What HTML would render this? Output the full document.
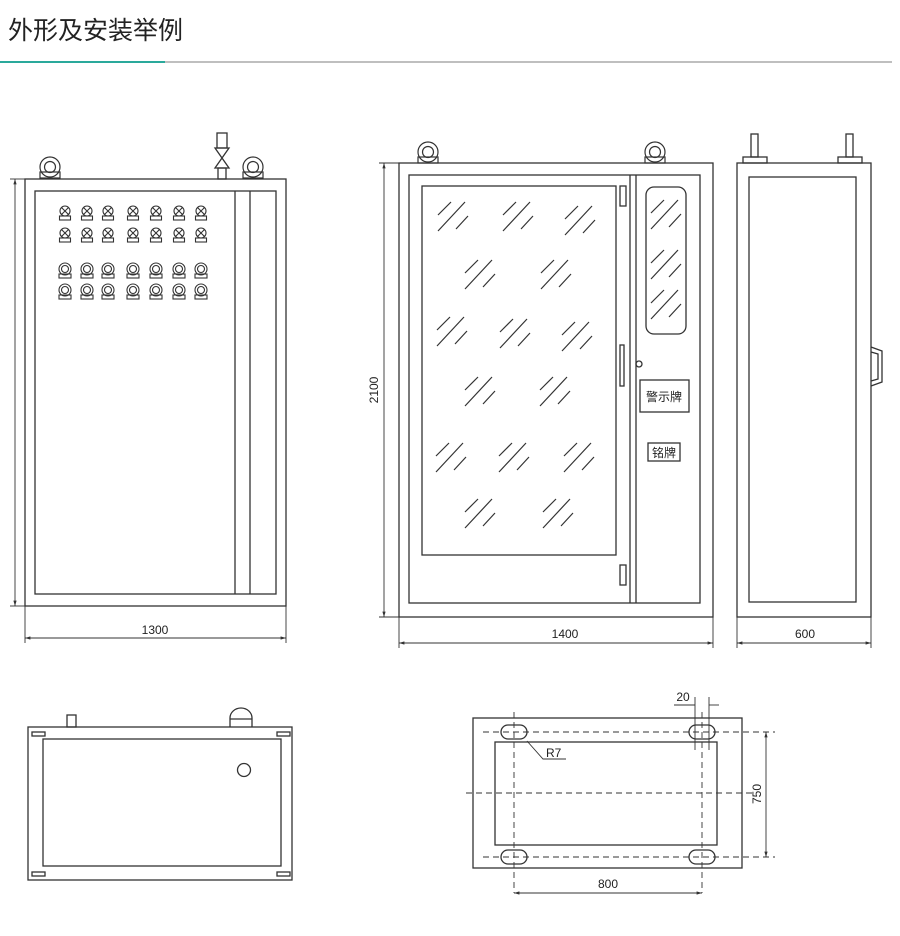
<!DOCTYPE html>
<html><head><meta charset="utf-8"><style>
body{margin:0;background:#fff;}
svg{display:block;}
text{font-family:"Liberation Sans","Noto Sans CJK SC",sans-serif;fill:#222;}
</style></head><body>
<svg width="900" height="936" viewBox="0 0 900 936" xmlns="http://www.w3.org/2000/svg">
<defs>
<g id="h" stroke="#333" stroke-width="1.2" fill="none">
<line x1="0" y1="13" x2="13" y2="0"/><line x1="0" y1="29" x2="27" y2="0"/><line x1="18" y1="27" x2="30" y2="14"/>
</g>
<g id="lx" stroke="#333" stroke-width="1.1" fill="none">
<circle cx="0" cy="0" r="5"/><line x1="-3.5" y1="-3.5" x2="3.5" y2="3.5"/><line x1="-3.5" y1="3.5" x2="3.5" y2="-3.5"/><rect x="-5.5" y="5" width="11" height="4"/>
</g>
<g id="bt" stroke="#333" stroke-width="1.1" fill="none">
<circle cx="0" cy="0" r="6"/><circle cx="0" cy="0" r="3.5"/><rect x="-6" y="5" width="12" height="4"/>
</g>
<g id="eye" stroke="#333" stroke-width="1.2" fill="none">
<circle cx="0" cy="-11" r="10"/><circle cx="0" cy="-11" r="5.5"/><rect x="-10" y="-6" width="20" height="6"/>
</g>
<marker id="a" viewBox="0 0 10 10" refX="10" refY="5" markerWidth="6" markerHeight="6" orient="auto-start-reverse"><path d="M0,2 L10,5 L0,8z" fill="#333"/></marker>
</defs>

<text x="8" y="39" font-size="25" style="fill:#222">外形及安装举例</text>
<line x1="0" y1="62" x2="165" y2="62" stroke="#2aa99b" stroke-width="2"/>
<line x1="165" y1="62" x2="892" y2="62" stroke="#aaa" stroke-width="1.5"/>

<g stroke="#333" stroke-width="1.3" fill="none">
<rect x="25" y="179" width="261" height="427"/>
<rect x="35" y="191" width="241" height="403"/>
<line x1="235" y1="191" x2="235" y2="594"/>
<line x1="250" y1="191" x2="250" y2="594"/>
<rect x="217" y="133" width="10" height="15"/>
<path d="M215,148 L229,148 L215,168 L229,168 Z"/>
<rect x="218" y="168" width="8" height="11"/>
</g>
<use href="#eye" x="50" y="178"/>
<use href="#eye" x="253" y="178"/>
<g>
<use href="#lx" x="65" y="211"/><use href="#lx" x="87" y="211"/><use href="#lx" x="108" y="211"/><use href="#lx" x="133" y="211"/><use href="#lx" x="156" y="211"/><use href="#lx" x="179" y="211"/><use href="#lx" x="201" y="211"/>
<use href="#lx" x="65" y="233"/><use href="#lx" x="87" y="233"/><use href="#lx" x="108" y="233"/><use href="#lx" x="133" y="233"/><use href="#lx" x="156" y="233"/><use href="#lx" x="179" y="233"/><use href="#lx" x="201" y="233"/>
<use href="#bt" x="65" y="269"/><use href="#bt" x="87" y="269"/><use href="#bt" x="108" y="269"/><use href="#bt" x="133" y="269"/><use href="#bt" x="156" y="269"/><use href="#bt" x="179" y="269"/><use href="#bt" x="201" y="269"/>
<use href="#bt" x="65" y="290"/><use href="#bt" x="87" y="290"/><use href="#bt" x="108" y="290"/><use href="#bt" x="133" y="290"/><use href="#bt" x="156" y="290"/><use href="#bt" x="179" y="290"/><use href="#bt" x="201" y="290"/>
</g>
<g stroke="#333" stroke-width="0.9" fill="none">
<line x1="15" y1="179" x2="15" y2="606" marker-start="url(#a)" marker-end="url(#a)"/>
<line x1="10" y1="179" x2="25" y2="179"/><line x1="10" y1="606" x2="25" y2="606"/>
<line x1="25" y1="606" x2="25" y2="643"/><line x1="286" y1="606" x2="286" y2="643"/>
<line x1="25" y1="638" x2="286" y2="638" marker-start="url(#a)" marker-end="url(#a)"/>
</g>
<text x="155" y="634" font-size="12" text-anchor="middle">1300</text>

<g stroke="#333" stroke-width="1.3" fill="none">
<rect x="399" y="163" width="314" height="454"/>
<rect x="409" y="175" width="291" height="428"/>
<line x1="630" y1="175" x2="630" y2="603"/>
<line x1="636" y1="175" x2="636" y2="603"/>
<rect x="422" y="186" width="194" height="369"/>
<rect x="620" y="186" width="6" height="20"/>
<rect x="620" y="345" width="4" height="41"/>
<rect x="620" y="565" width="6" height="20"/>
<circle cx="639" cy="364" r="3"/>
<rect x="646" y="187" width="40" height="147" rx="8"/>
<rect x="640" y="380" width="49" height="32"/>
<rect x="648" y="443" width="32" height="18"/>
</g>
<use href="#eye" x="428" y="163"/>
<use href="#eye" x="655" y="163"/>
<text x="664" y="401" font-size="12" text-anchor="middle">警示牌</text>
<text x="664" y="457" font-size="12" text-anchor="middle">铭牌</text>
<use href="#h" x="438" y="202"/><use href="#h" x="503" y="202"/><use href="#h" x="565" y="206"/>
<use href="#h" x="465" y="260"/><use href="#h" x="541" y="260"/>
<use href="#h" x="437" y="317"/><use href="#h" x="500" y="319"/><use href="#h" x="562" y="322"/>
<use href="#h" x="465" y="377"/><use href="#h" x="540" y="377"/>
<use href="#h" x="436" y="443"/><use href="#h" x="499" y="443"/><use href="#h" x="564" y="443"/>
<use href="#h" x="465" y="499"/><use href="#h" x="543" y="499"/>
<use href="#h" x="651" y="200"/><use href="#h" x="651" y="250"/><use href="#h" x="651" y="290"/>
<g stroke="#333" stroke-width="0.9" fill="none">
<line x1="384" y1="163" x2="384" y2="617" marker-start="url(#a)" marker-end="url(#a)"/>
<line x1="379" y1="163" x2="399" y2="163"/><line x1="379" y1="617" x2="399" y2="617"/>
<line x1="399" y1="617" x2="399" y2="648"/><line x1="713" y1="617" x2="713" y2="648"/>
<line x1="399" y1="643" x2="713" y2="643" marker-start="url(#a)" marker-end="url(#a)"/>
</g>
<text x="378" y="390" font-size="12" text-anchor="middle" transform="rotate(-90 378 390)">2100</text>
<text x="565" y="638" font-size="12" text-anchor="middle">1400</text>

<g stroke="#333" stroke-width="1.3" fill="none">
<rect x="737" y="163" width="134" height="454"/>
<rect x="749" y="177" width="107" height="425"/>
<rect x="743" y="157" width="24" height="6"/>
<rect x="751" y="134" width="7" height="23"/>
<rect x="838" y="157" width="24" height="6"/>
<rect x="846" y="134" width="7" height="23"/>
<path d="M871,347 L882,351 L882,382 L871,386"/>
<path d="M871,352 L878,354 L878,379 L871,381"/>
</g>
<g stroke="#333" stroke-width="0.9" fill="none">
<line x1="737" y1="617" x2="737" y2="648"/><line x1="871" y1="617" x2="871" y2="648"/>
<line x1="737" y1="643" x2="871" y2="643" marker-start="url(#a)" marker-end="url(#a)"/>
</g>
<text x="805" y="638" font-size="12" text-anchor="middle">600</text>

<g stroke="#333" stroke-width="1.3" fill="none">
<rect x="28" y="727" width="264" height="153"/>
<rect x="43" y="739" width="238" height="127"/>
<rect x="32" y="732" width="13" height="4"/><rect x="277" y="732" width="13" height="4"/>
<rect x="32" y="872" width="13" height="4"/><rect x="277" y="872" width="13" height="4"/>
<rect x="67" y="715" width="9" height="12"/>
<path d="M230,727 L230,718 A11,10 0 0 1 252,718 L252,727"/>
<line x1="230" y1="719" x2="252" y2="719"/>
<circle cx="244" cy="770" r="6.5"/>
</g>

<g stroke="#333" stroke-width="1.3" fill="none">
<rect x="473" y="718" width="269" height="150"/>
<rect x="495" y="742" width="222" height="103"/>
<rect x="501" y="725" width="26" height="14" rx="7"/>
<rect x="689" y="725" width="26" height="14" rx="7"/>
<rect x="501" y="850" width="26" height="14" rx="7"/>
<rect x="689" y="850" width="26" height="14" rx="7"/>
</g>
<g stroke="#333" stroke-width="0.9" fill="none" stroke-dasharray="6,4">
<line x1="514" y1="712" x2="514" y2="893"/>
<line x1="702" y1="712" x2="702" y2="893"/>
<line x1="483" y1="732" x2="775" y2="732"/>
<line x1="466" y1="793" x2="755" y2="793"/>
<line x1="483" y1="857" x2="775" y2="857"/>
</g>
<g stroke="#333" stroke-width="0.9" fill="none">
<polyline points="527,741 543,759 566,759"/>
<line x1="695" y1="697" x2="695" y2="750"/><line x1="709" y1="697" x2="709" y2="750"/>
<line x1="674" y1="705" x2="695" y2="705"/>
<line x1="709" y1="705" x2="719" y2="705"/>
<line x1="766" y1="732" x2="766" y2="857" marker-start="url(#a)" marker-end="url(#a)"/>
<line x1="514" y1="893" x2="702" y2="893" marker-start="url(#a)" marker-end="url(#a)"/>
</g>
<text x="546" y="757" font-size="12">R7</text>
<text x="683" y="701" font-size="12" text-anchor="middle">20</text>
<text x="761" y="794" font-size="12" text-anchor="middle" transform="rotate(-90 761 794)">750</text>
<text x="608" y="888" font-size="12" text-anchor="middle">800</text>
</svg>
</body></html>
